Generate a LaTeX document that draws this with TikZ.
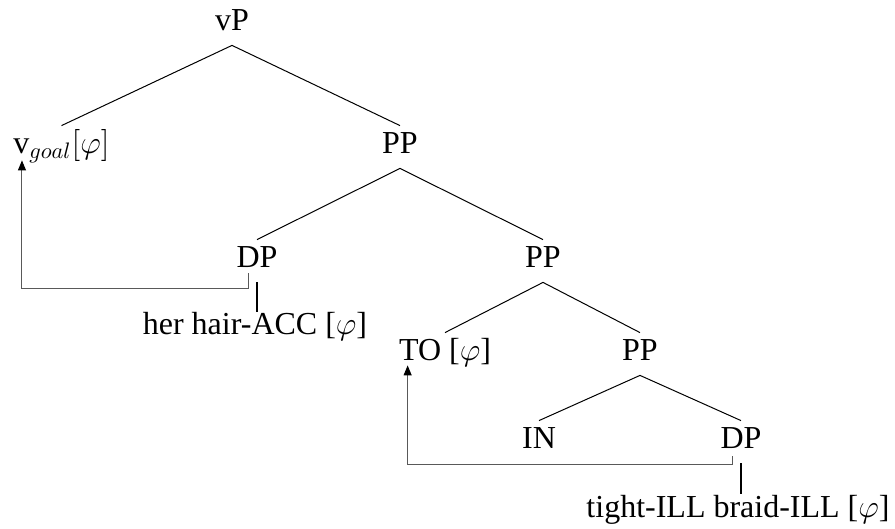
\RequirePackage{fix-cm}
\documentclass[tikz,border=0pt]{standalone}
\usepackage{amsmath}
\usepackage{amssymb}
\usepackage{fontspec}
\setmainfont{Liberation Serif}
\usetikzlibrary{arrows.meta}

\begin{document}
\begin{tikzpicture}[x=0.5pt,y=-0.5pt,font=\fontsize{16}{19}\selectfont,
    cat/.style={anchor=base,inner xsep=0pt,inner ysep=4pt,text height=10pt,text depth=3pt},
    leaf/.style={anchor=base,inner sep=0pt},
    branch/.style={line width=0.5pt},
    bar/.style={line width=1pt},
    move/.style={line width=0.5pt,draw=black!65,-{Triangle[length=5pt,width=4pt,color=black]}}]
    \useasboundingbox (0,0) rectangle (895,529);
    \node[cat] (vp) at (232,31) {vP}; \node[cat] (vgoal) at (61.5,154)
    {v$_{goal}[\varphi]$}; \node[cat] (ppa) at (400,154) {PP};
    \node[cat] (dpa) at (257,268) {DP}; \node[cat] (ppb) at (543,268)
    {PP}; \node[cat] (to) at (445,361) {TO [$\varphi$]}; \node[cat]
    (ppc) at (640,361) {PP}; \node[cat] (in) at (539,449) {IN};
    \node[cat] (dpb) at (741,449) {DP}; \node[leaf] (hair) at (255,335)
    {her hair-ACC [$\varphi$]}; \node[leaf] (braid) at (738,517)
    {tight-ILL braid-ILL [$\varphi$]};
    \draw[branch] (vgoal.north) -- (vp.south) -- (ppa.north); \draw[branch]
    (dpa.north) -- (ppa.south) -- (ppb.north); \draw[branch] (to.north)
    -- (ppb.south) -- (ppc.north); \draw[branch] (in.north) --
    (ppc.south) -- (dpb.north); \draw[bar] (dpa.south) -- (dpa.south
    |- hair.north); \draw[bar] (dpb.south) -- (dpb.south |-
    braid.north);
    \draw[move] ([shift={(-9,-9)}]dpa.south) -- ++(0,15) -|
    ([shift={(9,-8)}]vgoal.south west); \draw[move]
    ([shift={(-9,-7)}]dpb.south) -- ++(0,8) -|
    ([shift={(9,-10)}]to.south west);
  \end{tikzpicture}
\end{document}
